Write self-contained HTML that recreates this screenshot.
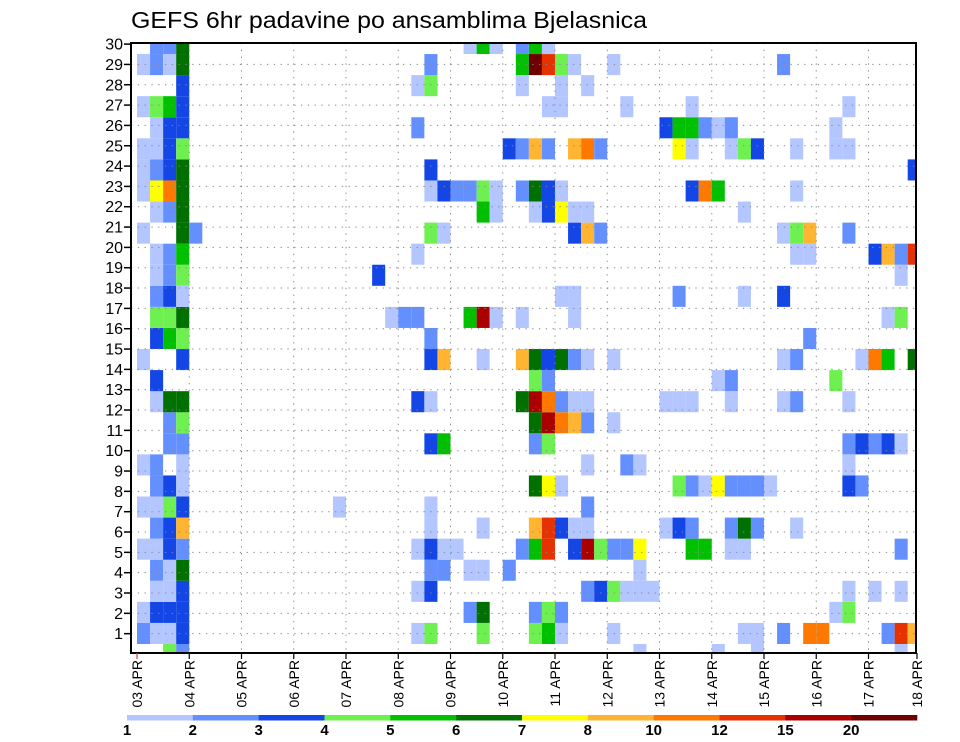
<!DOCTYPE html>
<html><head><meta charset="utf-8"><title>GEFS 6hr padavine po ansamblima Bjelasnica</title>
<style>html,body{margin:0;padding:0;background:#fff;width:960px;height:742px;overflow:hidden}svg{display:block;font-family:"Liberation Sans",sans-serif}</style>
</head><body>
<svg id="chart" width="960" height="742" viewBox="0 0 960 742" xmlns="http://www.w3.org/2000/svg">
<text x="131" y="28" font-size="23" textLength="516" lengthAdjust="spacingAndGlyphs" fill="#000">GEFS 6hr padavine po ansamblima Bjelasnica</text>
<g id="cells"></g>
<g id="grid"></g>
<rect x="131" y="43" width="785" height="610" fill="none" stroke="#000" stroke-width="2"/>
<g id="yaxis"></g>
<g id="xaxis"></g>
<g id="legend"></g>
</svg>
<script>
// ---- data ----
const dayLabels = ["03 APR","04 APR","05 APR","06 APR","07 APR","08 APR","09 APR","10 APR","11 APR","12 APR","13 APR","14 APR","15 APR","16 APR","17 APR","18 APR"];
const yTicks = [1,2,3,4,5,6,7,8,9,10,11,12,13,14,15,16,17,18,19,20,21,22,23,24,25,26,27,28,29,30];
const levelLabels = ["1","2","3","4","5","6","7","8","10","12","15","20"];
const levelColors = ["#b4c6ff","#6490ff","#1446e6","#6ef050","#00c000","#007000","#ffff00","#ffb432","#ff7800","#e63200","#aa0000","#6e0000"];
// member rows (bottom=0); tokens "column:level" (level 1..12 => colour class)
const member00 = "2:4 3:2 38:1 44:1 47:1 58:1";
const member01 = "0:2 1:1 2:1 3:3 21:1 22:4 26:4 30:4 31:5 32:1 36:1 46:1 47:1 49:2 51:9 52:9 57:2 58:10 59:8";
const member02 = "0:1 1:3 2:3 3:3 25:2 26:6 30:2 31:4 32:2 53:1 54:4";
const member03 = "1:1 2:1 3:3 21:1 22:3 34:2 35:3 36:4 37:1 38:1 39:1 54:1 56:1 58:1";
const member04 = "1:2 2:1 3:6 22:2 23:2 25:1 26:1 28:2 38:1";
const member05 = "0:1 1:1 2:3 3:2 21:1 22:3 23:1 24:1 29:2 30:5 31:10 33:3 34:11 35:4 36:2 37:2 38:7 42:5 43:5 45:1 46:1 58:2";
const member06 = "1:2 2:3 3:8 22:1 26:1 30:8 31:10 32:3 33:1 34:1 40:1 41:3 42:2 45:2 46:6 47:2 50:1";
const member07 = "0:1 1:1 2:4 3:3 15:1 22:1 34:2";
const member08 = "1:2 2:3 3:1 30:6 31:7 32:1 41:4 42:2 43:1 44:7 45:2 46:2 47:2 48:1 54:3 55:2";
const member09 = "0:1 1:2 3:1 34:1 37:2 38:1 54:1";
const member10 = "2:2 3:2 22:3 23:5 30:2 31:4 54:2 55:3 56:2 57:3 58:1";
const member11 = "2:2 3:4 30:6 31:11 32:9 33:8 34:2 36:1";
const member12 = "1:1 2:6 3:6 21:3 22:1 29:6 30:11 31:9 32:2 33:1 34:1 40:1 41:1 42:1 45:1 49:1 50:2 54:1";
const member13 = "1:3 30:4 31:2 44:1 45:2 53:4";
const member14 = "0:1 3:3 22:3 23:8 26:1 29:8 30:6 31:3 32:6 33:2 34:1 36:1 49:1 50:2 55:1 56:9 57:5 59:6";
const member15 = "1:3 2:5 3:4 22:2 51:2";
const member16 = "1:4 2:4 3:6 19:1 20:2 21:2 25:5 26:11 27:1 29:1 33:1 57:1 58:4";
const member17 = "1:2 2:3 3:1 32:1 33:1 41:2 46:1 49:3";
const member18 = "1:1 2:2 3:4 18:3 58:1";
const member19 = "1:1 2:2 3:5 21:1 50:1 51:1 56:3 57:8 58:2 59:10";
const member20 = "0:1 3:6 4:2 22:4 23:1 33:3 34:8 35:2 49:1 50:4 51:8 54:2";
const member21 = "1:1 2:2 3:6 26:5 27:1 30:1 31:3 32:7 33:1 34:1 46:1";
const member22 = "0:1 1:7 2:9 3:6 22:1 23:3 24:2 25:2 26:4 27:1 29:2 30:6 31:3 32:1 42:3 43:9 44:5 50:1";
const member23 = "0:1 1:2 2:3 3:6 22:3 59:3";
const member24 = "0:1 1:1 2:3 3:4 28:3 29:2 30:8 31:2 33:8 34:9 35:2 41:7 42:1 45:1 46:4 47:3 50:1 53:1 54:1";
const member25 = "1:1 2:3 3:3 21:2 40:3 41:5 42:5 43:2 44:1 45:2 53:1";
const member26 = "0:1 1:4 2:5 3:3 31:1 32:1 37:1 42:1 54:1";
const member27 = "3:3 21:1 22:4 29:1 32:1 34:1";
const member28 = "0:1 1:2 2:1 3:6 22:2 29:5 30:12 31:10 32:4 33:1 36:1 49:2";
const member29 = "1:2 2:2 3:6 25:1 26:5 27:1 29:2 30:5 31:1";
const members = [member00,member01,member02,member03,member04,member05,member06,member07,member08,member09,member10,member11,member12,member13,member14,member15,member16,member17,member18,member19,member20,member21,member22,member23,member24,member25,member26,member27,member28,member29];

// ---- layout ----
const NS = "http://www.w3.org/2000/svg";
const plotL = 131, plotR = 916, plotT = 43, plotB = 653;
const x0 = 137, dayW = 52.25, colW = dayW / 4;
const cellBase = 644, cellH = 21.07;
const tickY0 = 654, tickStep = 20.33;
function xCol(c){ return x0 + c * colW; }
function xDay(d){ return x0 + d * dayW; }
function yTick(v){ return tickY0 - v * tickStep; }
function mk(tag, attrs, parent){ const e = document.createElementNS(NS, tag); for (const k in attrs) e.setAttribute(k, attrs[k]); parent.appendChild(e); return e; }

const cellsG = document.getElementById("cells");
members.forEach(function(str, j){
  const top = Math.max(plotT, cellBase - cellH * j);
  const bot = Math.min(plotB, cellBase - cellH * (j - 1));
  str.split(" ").forEach(function(tok){
    if (!tok) return;
    const p = tok.split(":"); const c = +p[0]; const lv = +p[1];
    const l = Math.max(plotL, xCol(c)); const r = Math.min(plotR, xCol(c + 1));
    const rc = mk("rect", {x: l.toFixed(2), y: top.toFixed(2), width: (r - l).toFixed(2), height: (bot - top).toFixed(2), fill: levelColors[lv - 1]}, cellsG);
    
    
  });
});

const gridG = document.getElementById("grid");
yTicks.forEach(function(v){
  if (v >= 30) return;
  const ln = mk("line", {x1: plotL, x2: plotR, y1: yTick(v), y2: yTick(v), stroke: "#888", "stroke-width": 1, "stroke-dasharray": "1.3,5.5"}, gridG);
  
  
});
dayLabels.forEach(function(d, i){
  if (i === 0 || i === dayLabels.length - 1) return;
  const ln = mk("line", {x1: xDay(i), x2: xDay(i), y1: plotT, y2: plotB, stroke: "#888", "stroke-width": 1, "stroke-dasharray": "1.3,5.5"}, gridG);
  
  
});

const yG = document.getElementById("yaxis");
yTicks.forEach(function(v){
  const y = yTick(v);
  const tk = mk("line", {x1: 124, x2: plotL, y1: y, y2: y, stroke: "#000", "stroke-width": 1.5}, yG);
  
  
  const t = mk("text", {x: 123, y: y + 5.5, "font-size": 16, "text-anchor": "end", fill: "#000"}, yG);
  t.textContent = String(v);
  
  
});

const xG = document.getElementById("xaxis");
dayLabels.forEach(function(d, i){
  const x = Math.min(xDay(i), 917);
  const tk = mk("line", {x1: x, x2: x, y1: plotB, y2: plotB + 6, stroke: i === 0 ? "#d04040" : "#000", "stroke-width": 1.2}, xG);
  
  
  const t = mk("text", {x: 0, y: 0, "font-size": 14, "text-anchor": "end", fill: "#000", transform: "translate(" + (x + 5) + ",660) rotate(-90)"}, xG);
  t.textContent = d;
  
  
});

const lgG = document.getElementById("legend");
const lgL = 127, lgR = 917, segW = (lgR - lgL) / levelColors.length;
levelColors.forEach(function(col, i){
  const r = mk("rect", {x: (lgL + i * segW).toFixed(2), y: 715, width: (segW + 0.3).toFixed(2), height: 5.5, fill: col}, lgG);
  
  
});
levelLabels.forEach(function(lb, i){
  const t = mk("text", {x: (lgL + i * segW).toFixed(2), y: 735, "font-size": 15, "font-weight": "bold", "text-anchor": "middle", fill: "#000"}, lgG);
  t.textContent = lb;
  
  
});
</script>
</body></html>
